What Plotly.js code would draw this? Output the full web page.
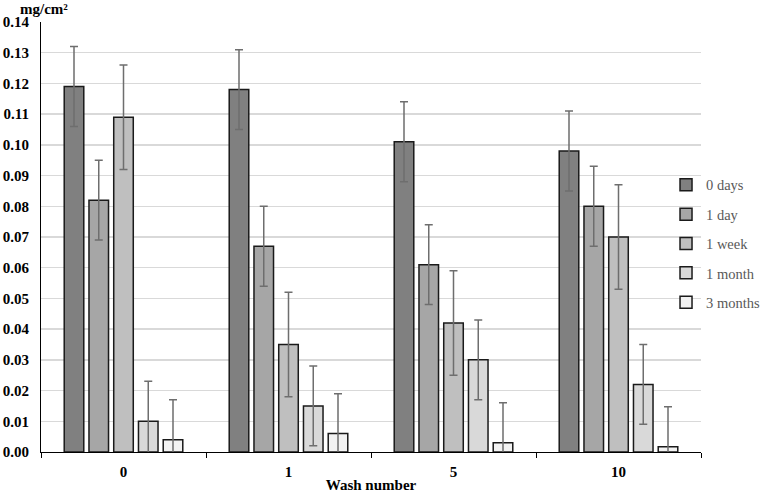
<!DOCTYPE html>
<html>
<head>
<meta charset="utf-8">
<script src="https://cdn.plot.ly/plotly-3.0.1.min.js"></script>
<style>html,body{margin:0;padding:0;background:#fff;}#chart{width:765px;height:493px;}</style>
</head>
<body>
<div id="chart"></div>
<script>
const washNumbers = ['0', '1', '5', '10'];
const seriesNames = ['0 days', '1 day', '1 week', '1 month', '3 months'];
const days0   = [0.119, 0.118, 0.101, 0.098];
const day1    = [0.082, 0.067, 0.061, 0.080];
const week1   = [0.109, 0.035, 0.042, 0.070];
const month1  = [0.010, 0.015, 0.030, 0.022];
const months3 = [0.004, 0.006, 0.003, 0.0017];
const err0days   = [0.013, 0.013, 0.013, 0.013];
const err1day    = [0.013, 0.013, 0.013, 0.013];
const err1week   = [0.017, 0.017, 0.017, 0.017];
const err1month  = [0.013, 0.013, 0.013, 0.013];
const err3months = [0.013, 0.013, 0.013, 0.013];
const seriesValues = [days0, day1, week1, month1, months3];
const seriesErrors = [err0days, err1day, err1week, err1month, err3months];
const fills = ['#808080', '#a6a6a6', '#bfbfbf', '#d9d9d9', '#f2f2f2'];

const traces = seriesNames.map((name, i) => ({
  type: 'bar',
  name: name,
  legendgroup: 'g' + i,
  x: washNumbers,
  y: seriesValues[i],
  marker: {color: fills[i], line: {color: '#1a1a1a', width: 1.5}},
  error_y: {type: 'data', array: seriesErrors[i], visible: true, color: '#6e6e6e', thickness: 1.5, width: 4},
  hoverinfo: 'x+y+name'
}));

const serif = 'Liberation Serif';
const layout = {
  width: 765, height: 493,
  margin: {l: 41, r: 64, t: 22, b: 41, autoexpand: false},
  paper_bgcolor: '#fff', plot_bgcolor: '#fff',
  barmode: 'group', bargap: 0.25, bargroupgap: 0.21,
  font: {family: serif, color: '#000'},
  xaxis: {
    type: 'category', automargin: false,
    showline: true, linecolor: '#000', linewidth: 1,
    ticks: 'outside', tickson: 'boundaries', ticklen: 5, tickcolor: '#000',
    showgrid: false, ticklabelstandoff: 6,
    tickfont: {family: serif, size: 15, weight: 'bold', color: '#000'},
    title: {text: '<b>Wash number</b>', font: {family: serif, size: 15, color: '#000'}, standoff: 3}
  },
  yaxis: {
    range: [0, 0.14], dtick: 0.01, tickformat: '.2f', automargin: false,
    showline: true, linecolor: '#000', linewidth: 1,
    showgrid: true, gridcolor: '#d9d9d9', gridwidth: 1.5,
    zeroline: false, ticks: '', ticklabelstandoff: 8,
    tickfont: {family: serif, size: 15, weight: 'bold', color: '#000'}
  },
  legend: {
    x: 0.947, xanchor: 'left', y: 0.484, yanchor: 'middle',
    font: {family: serif, size: 14.5, color: '#595959'},
    bgcolor: 'rgba(0,0,0,0)', traceorder: 'grouped', tracegroupgap: 7.5
  },
  annotations: [{
    text: '<b>mg/cm²</b>', xref: 'paper', yref: 'paper', x: 0.044, y: 1.03,
    xanchor: 'right', yanchor: 'middle', showarrow: false,
    font: {family: serif, size: 15, color: '#000'}
  }]
};
Plotly.newPlot('chart', traces, layout, {displayModeBar: false, staticPlot: true});
</script>
</body>
</html>
